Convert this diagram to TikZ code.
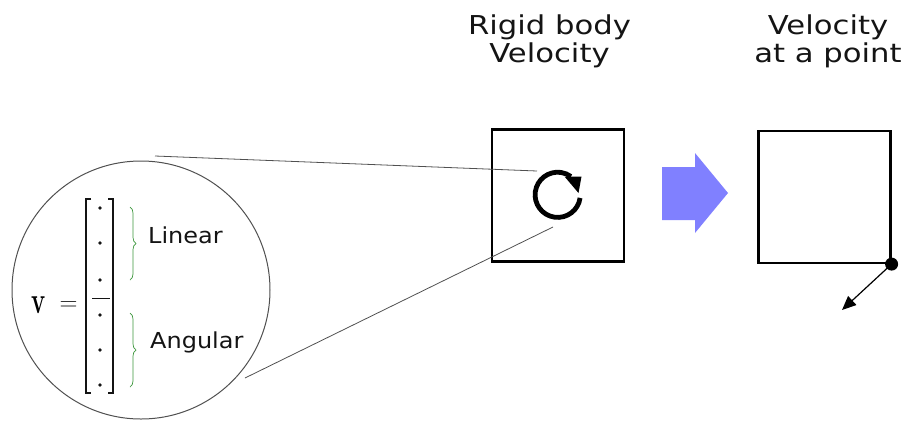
\documentclass[tikz,border=0pt]{standalone}
\usepackage[no-math]{fontspec}
\setmainfont{DejaVu Sans}
\newfontfamily\titlefont[FakeStretch=1.18]{DejaVu Sans}
\newfontfamily\labelfont[FakeStretch=1.09]{DejaVu Sans}
\newfontfamily\lmfont{Latin Modern Roman}
\usetikzlibrary{arrows.meta,decorations.pathreplacing}
\definecolor{bluearrow}{RGB}{128,128,255}
\definecolor{bracegreen}{RGB}{60,150,60}
\definecolor{ink}{RGB}{20,20,20}
\definecolor{zoomline}{RGB}{80,80,80}
\tikzset{
  titletext/.style={anchor=base, inner sep=0pt, text=ink, font=\titlefont\fontsize{26}{30}\selectfont},
  labeltext/.style={anchor=base west, inner sep=0pt, text=ink, font=\labelfont\fontsize{22}{26}\selectfont},
  bodybox/.style={draw=black, line width=2.2pt, minimum size=132pt, inner sep=0pt},
  zoomed/.style={draw=zoomline, line width=0.8pt},
  bracketline/.style={draw=ink, line width=1.2pt},
  vecdot/.style={circle, fill=ink, inner sep=0pt, minimum size=3.6pt},
  greenbrace/.style={draw=bracegreen, line width=0.7pt, decorate, decoration={brace, amplitude=6pt}},
}
\begin{document}
\begin{tikzpicture}[x=1pt,y=-1pt]
\useasboundingbox (0,0) rectangle (908,421);

% titles
\node[titletext] (t1a) at (549.5,34) {Rigid body};
\node[titletext] (t1b) at (549.5,62) {Velocity};
\node[titletext] (t2a) at (828,34) {Velocity};
\node[titletext] (t2b) at (828,62) {at a point};

% boxes
\node[bodybox] (b1) at (558,195.5) {};
\node[bodybox] (b2) at (824.5,197) {};

% rotation icon
\coordinate (rc) at (557.7,194.8);
\draw[line width=4.8pt, black]
  (rc) ++(8:22.6) arc[start angle=8, end angle=306, radius=22.6];
\fill[black] (564.5,176.5) -- (581.5,176.5) -- (578.5,193) -- cycle;

% blue arrow
\fill[bluearrow] (662,167) -- (695,167) -- (695,153) -- (728,193) -- (695,233) -- (695,220) -- (662,220) -- cycle;

% point velocity
\node[circle, fill=black, inner sep=0pt, minimum size=13pt] (pt) at (b2.south east) {};
\coordinate (vend) at (842,310);
\draw[line width=1.2pt, -{Triangle[length=14pt,width=12pt]}] (pt.center) -- (vend);

% zoom circle
\node[circle, draw=zoomline, line width=1pt, minimum size=258pt, inner sep=0pt] (zc) at (141,290) {};
\coordinate (zt1) at (155,156);
\coordinate (zt2) at (537,171);
\coordinate (zb1) at (245,378);
\coordinate (zb2) at (553,227);
\draw[zoomed] (zt1) -- (zt2);
\draw[zoomed] (zb1) -- (zb2);

% matrix
\draw[bracketline] (91,199) -- (86,199) -- (86,393) -- (91,393);
\draw[bracketline] (108,199) -- (113,199) -- (113,393) -- (108,393);
\draw[draw=ink, line width=0.8pt] (92,298) -- (110,298);
\foreach \yy/\nm in {208/d1,243/d2,280/d3,315/d4,350/d5,385/d6}
  \node[vecdot] (\nm) at (100,\yy) {};

\node[anchor=base, inner sep=0pt, text=black, font=\lmfont\bfseries\fontsize{28}{30}\selectfont] (vv) at (39,313) {\scalebox{0.85}[1.35]{v}};
\node[anchor=base, inner sep=0pt, text=ink, font=\fontsize{24}{28}\selectfont] (eq) at (68.5,310) {$=$};

% braces
\draw[greenbrace] (130,207) -- (130,280);
\draw[greenbrace] (130,313) -- (130,387);

\node[labeltext] (lin) at (148,243) {Linear};
\node[labeltext] (ang) at (150,348) {Angular};
\end{tikzpicture}
\end{document}
